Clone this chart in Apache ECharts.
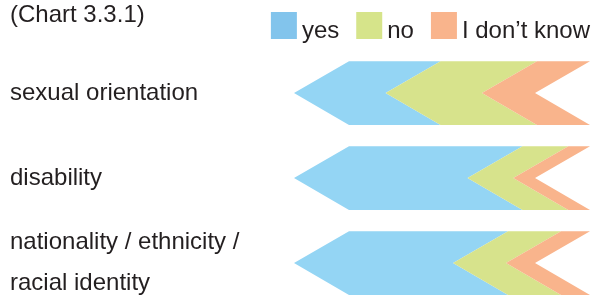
<!DOCTYPE html>
<html>
<head>
<meta charset="utf-8">
<script src="https://cdn.jsdelivr.net/npm/echarts@6/dist/echarts.min.js"></script>
<style>
html,body{margin:0;padding:0;background:#fff;}
#chart{width:596px;height:295px;}
</style>
</head>
<body>
<div id="chart"></div>
<script>
// Data
const categories = ['sexual orientation', 'disability', 'nationality / ethnicity /\nracial identity'];
const seriesNames = ['yes', 'no', 'I don\u2019t know'];
const yesValues = [38, 72, 66];
const noValues = [40, 19, 22];
const dontKnowValues = [22, 9, 12];
const titleText = '(Chart 3.3.1)';

const FONT = 'Liberation Sans';
const TEXT_COLOR = '#231f20';
const barColors = ['#94d5f4', '#d7e38c', '#f9b48c'];
const legendColors = ['#82c4ec', '#d6e48a', '#f9b48c'];

const valueSets = [yesValues, noValues, dontKnowValues];
const cum = categories.map(() => 0);
const seriesData = valueSets.map(vals => vals.map((v, i) => {
  const s = cum[i];
  cum[i] += v;
  return [i, s, s + v];
}));

function renderItem(params, api) {
  const cat = api.value(0);
  const start = api.value(1);
  const end = api.value(2);
  const pS = api.coord([start, cat]);
  const pE = api.coord([end, cat]);
  const band = Math.abs(api.coord([0, 1])[1] - api.coord([0, 0])[1]);
  const h = band * 0.75;
  const cy = pS[1];
  const top = cy - h / 2, bot = cy + h / 2;
  const d = 55;
  return {
    type: 'polygon',
    shape: {
      points: [
        [pS[0], top], [pE[0], top], [pE[0] - d, cy],
        [pE[0], bot], [pS[0], bot], [pS[0] - d, cy]
      ]
    },
    style: { fill: api.visual('color') }
  };
}

const chart = echarts.init(document.getElementById('chart'), null, { renderer: 'canvas' });
chart.setOption({
  animation: false,
  title: {
    text: titleText,
    left: 10,
    top: 3,
    padding: 0,
    textStyle: { fontFamily: FONT, fontSize: 24, fontWeight: 'normal', color: TEXT_COLOR }
  },
  legend: {
    right: 6,
    top: 12,
    padding: 0,
    itemWidth: 26,
    itemHeight: 27,
    itemGap: 17,
    icon: 'rect',
    formatter: '{a|{name}}',
    textStyle: {
      fontFamily: FONT, fontSize: 24, color: TEXT_COLOR,
      rich: { a: { fontFamily: FONT, fontSize: 24, color: TEXT_COLOR, padding: [12, 0, 0, 0] } }
    },
    data: seriesNames.map((n, i) => ({ name: n, itemStyle: { color: legendColors[i] } }))
  },
  grid: { left: 349, right: 6, top: 93, height: 170, containLabel: false, outerBoundsMode: 'none' },
  xAxis: { type: 'value', min: 0, max: 100, show: false },
  yAxis: {
    type: 'category',
    data: categories,
    inverse: true,
    boundaryGap: false,
    axisLine: { show: false },
    axisTick: { show: false },
    splitLine: { show: false },
    axisLabel: {
      align: 'left',
      margin: 339,
      fontFamily: FONT,
      fontSize: 24,
      lineHeight: 41,
      color: TEXT_COLOR
    }
  },
  series: seriesNames.map((n, i) => ({
    name: n,
    type: 'custom',
    renderItem: renderItem,
    itemStyle: { color: barColors[i] },
    encode: { x: [1, 2], y: 0 },
    data: seriesData[i]
  }))
});
</script>
</body>
</html>
